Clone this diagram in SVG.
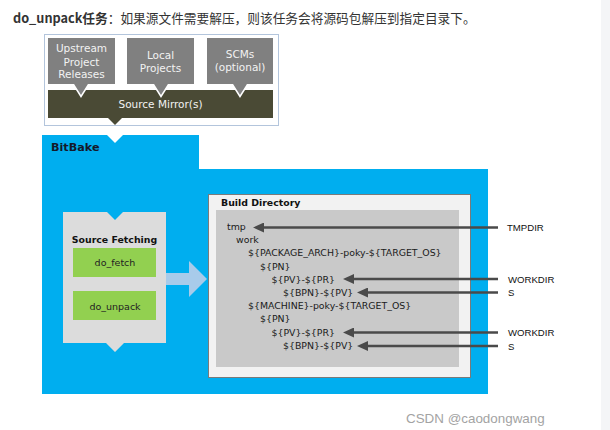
<svg xmlns="http://www.w3.org/2000/svg" width="610" height="430" viewBox="0 0 610 430">
  <defs>
    <style>
      .dv { font-family: "DejaVu Sans", sans-serif; }
      .src { fill: #808080; }
      .srct { font-family: "DejaVu Sans", sans-serif; font-size: 10.5px; fill: #f2f2f2; text-anchor: middle; }
      .bd { font-family: "DejaVu Sans", sans-serif; font-size: 9.4px; fill: #1a1a1a; }
      .lbl { font-family: "Liberation Sans", Arial, sans-serif; font-size: 9.6px; fill: #111; }
      .task { fill: #92d050; }
      .taskt { font-family: "DejaVu Sans", sans-serif; font-size: 9.5px; fill: #222; text-anchor: middle; }
      .ar { stroke: #4a4a4a; stroke-width: 2.4; fill: none; }
      .bold { font-weight: bold; }
    </style>
    <marker id="ah" viewBox="0 0 11 10" refX="3" refY="5" markerWidth="11" markerHeight="10" markerUnits="userSpaceOnUse" orient="auto">
      <path d="M0,0 L11,5 L0,10 z" fill="#4a4a4a"/>
    </marker>
  </defs>

  <rect x="0" y="0" width="610" height="430" fill="#ffffff"/>
  <rect x="601" y="0" width="9" height="430" fill="#f4f5f7"/>

  <text x="13" y="23" font-family="'Noto Sans CJK SC', sans-serif" font-size="12.7" fill="#333"><tspan font-weight="bold">do_unpack任务</tspan>：如果源文件需要解压，则该任务会将源码包解压到指定目录下。</text>

  <!-- Sources panel -->
  <g id="sources-panel">
    <rect x="44.5" y="34.5" width="234" height="91" fill="#ffffff" stroke="#b3c5dc" stroke-width="1"/>
  </g>
  <g id="source-mirror">
    <rect x="48" y="90" width="225" height="28" fill="#4a4a35"/>
    <polygon points="107,117 123,117 115,125" fill="#4a4a35"/>
    <text x="160.5" y="108" class="srct">Source Mirror(s)</text>
  </g>
  <g id="upstream">
    <polygon points="72.5,83 89.5,83 81,96.5" class="src" stroke="#ffffff" stroke-width="1.5"/>
    <rect x="48" y="38" width="67" height="46" class="src"/>
    <text class="srct"><tspan x="81.5" y="51.5">Upstream</tspan><tspan x="81.5" y="65.5">Project</tspan><tspan x="81.5" y="77.5">Releases</tspan></text>
  </g>
  <g id="local">
    <polygon points="152.5,83 169.5,83 161,96.5" class="src" stroke="#ffffff" stroke-width="1.5"/>
    <rect x="127" y="38" width="67" height="46" class="src"/>
    <text class="srct"><tspan x="160.5" y="58.5">Local</tspan><tspan x="160.5" y="71.5">Projects</tspan></text>
  </g>
  <g id="scms">
    <polygon points="231.5,83 248.5,83 240,96.5" class="src" stroke="#ffffff" stroke-width="1.5"/>
    <rect x="207" y="38" width="66" height="46" class="src"/>
    <text class="srct"><tspan x="240" y="57.5">SCMs</tspan><tspan x="240" y="70.5">(optional)</tspan></text>
  </g>

  <!-- BitBake -->
  <g id="bitbake">
    <path d="M42,135 L107,135 L115,143 L123,135 L199,135 L199,169 L488,169 L488,394 L42,394 Z" fill="#00aeef"/>
    <text x="51" y="151" class="dv bold" font-size="11.2" fill="#14192a">BitBake</text>
  </g>

  <g id="source-fetching">
    <path d="M63,212 L107,212 L115,220 L123,212 L166,212 L166,343 L124,343 L115,352 L106,343 L63,343 Z" fill="#dcdcdc"/>
    <text x="114.5" y="242.5" class="dv bold" font-size="9.4" fill="#111" text-anchor="middle">Source Fetching</text>
  </g>
  <g id="do-fetch">
    <rect x="73" y="248" width="83" height="29" class="task"/>
    <text x="115" y="265.5" class="taskt">do_fetch</text>
  </g>
  <g id="do-unpack">
    <rect x="73" y="291" width="83" height="29" class="task"/>
    <text x="115" y="309.5" class="taskt">do_unpack</text>
  </g>

  <g id="build-directory">
    <rect x="208.5" y="194.5" width="262" height="183" fill="#f2f2f2" stroke="#7a7a7a" stroke-width="1"/>
    <rect x="216" y="210" width="243" height="157" fill="#c9c9c9"/>
    <text x="221" y="206" class="dv bold" font-size="9.4" fill="#111">Build Directory</text>
    <text class="bd">
      <tspan x="227" y="230">tmp</tspan>
      <tspan x="236" y="243.2">work</tspan>
      <tspan x="248" y="256.4">${PACKAGE_ARCH}-poky-${TARGET_OS}</tspan>
      <tspan x="260" y="269.6">${PN}</tspan>
      <tspan x="271.5" y="282.8">${PV}-${PR}</tspan>
      <tspan x="283" y="296">${BPN}-${PV}</tspan>
      <tspan x="248" y="309.2">${MACHINE}-poky-${TARGET_OS}</tspan>
      <tspan x="260" y="322.4">${PN}</tspan>
      <tspan x="271.5" y="335.6">${PV}-${PR}</tspan>
      <tspan x="283" y="348.8">${BPN}-${PV}</tspan>
    </text>
  </g>

  <g id="labels">
    <text x="507" y="230.5" class="lbl">TMPDIR</text>
    <text x="508" y="282.5" class="lbl">WORKDIR</text>
    <text x="508" y="296" class="lbl">S</text>
    <text x="508" y="335.5" class="lbl">WORKDIR</text>
    <text x="508" y="350" class="lbl">S</text>
  </g>

  <g id="connectors">
    <polygon points="166,273 189,273 189,261 207,279 189,297 189,285 166,285" fill="#a8cbea"/>
    <line x1="498" y1="227.5" x2="261" y2="227.5" class="ar" marker-end="url(#ah)"/>
    <line x1="498" y1="279" x2="351" y2="279" class="ar" marker-end="url(#ah)"/>
    <line x1="498" y1="292.5" x2="365" y2="292.5" class="ar" marker-end="url(#ah)"/>
    <line x1="498" y1="332.5" x2="351" y2="332.5" class="ar" marker-end="url(#ah)"/>
    <line x1="498" y1="346" x2="365" y2="346" class="ar" marker-end="url(#ah)"/>
  </g>

  <text x="406" y="423" font-family="'Liberation Sans', Arial, sans-serif" font-size="13.4" fill="#a3a3a3">CSDN @caodongwang</text>
</svg>
